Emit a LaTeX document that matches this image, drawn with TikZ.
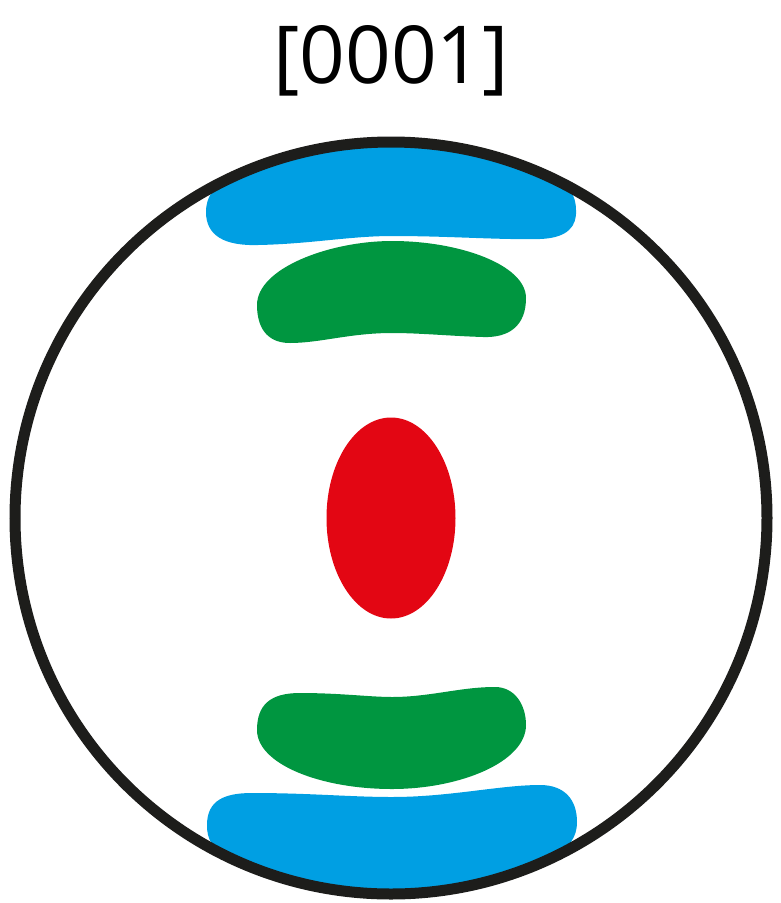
\documentclass[tikz,border=0pt]{standalone}
\usepackage{fontspec}
\setmainfont{Open Sans}
\usepackage{tikz}
\usetikzlibrary{positioning}
\usepackage{xcolor}
\definecolor{rimcolor}{RGB}{29, 29, 27}
\definecolor{outercolor}{RGB}{0, 159, 227}
\definecolor{innercolor}{RGB}{0, 150, 64}
\definecolor{centrecolor}{RGB}{227, 6, 19}

\begin{document}
\begin{tikzpicture}[x=1pt, y=-1pt,
    rim/.style={draw=rimcolor, line width=11pt},
    blob/.style={fill=#1, draw=none},
    title/.style={font=\fontsize{80}{90}\selectfont, inner sep=0pt, anchor=base}
]
\useasboundingbox (0,0) rectangle (780,903);

% Pole figure
\coordinate (centre) at (391,518);

% Title
\node[title] (label) at (391,83) {[0001]};

% Outer bands (clipped by the rim)
\begin{scope}
\clip (centre) circle (376);
\fill[blob=outercolor] (216,120) -- (212,192)
    .. controls (208,198) and (206,204) .. (206,212)
    .. controls (206,236) and (225,246) .. (258,245)
    .. controls (310,244) and (350,236) .. (392,236)
    .. controls (450,236) and (500,240) .. (540,239)
    .. controls (568,238) and (577,226) .. (576,210)
    .. controls (576,202) and (574,196) .. (570,190)
    -- (566,120) -- cycle;
\fill[blob=outercolor] (216,910) -- (212,844)
    .. controls (208,838) and (207,832) .. (207,825)
    .. controls (207,800) and (225,793) .. (252,793)
    .. controls (310,793) and (350,797) .. (392,797)
    .. controls (450,797) and (500,785) .. (540,785)
    .. controls (565,785) and (577,800) .. (577,822)
    .. controls (577,830) and (575,836) .. (571,842)
    -- (566,910) -- cycle;
\end{scope}

% Inner bands
\fill[blob=innercolor] (257,305)
    .. controls (257,268) and (330,241) .. (392,241)
    .. controls (460,241) and (526,265) .. (526,298)
    .. controls (526,325) and (510,338) .. (483,337)
    .. controls (450,336) and (420,333) .. (392,333)
    .. controls (350,333) and (320,343) .. (290,343)
    .. controls (265,343) and (257,325) .. (257,305) -- cycle;
\fill[blob=innercolor] (257,730)
    .. controls (257,705) and (270,693) .. (300,693)
    .. controls (340,693) and (370,697) .. (392,697)
    .. controls (430,697) and (460,687) .. (495,687)
    .. controls (515,687) and (526,705) .. (526,725)
    .. controls (526,762) and (460,789) .. (392,789)
    .. controls (320,789) and (257,764) .. (257,730) -- cycle;

% Centre spot
\fill[blob=centrecolor] (centre) ellipse [x radius=64.5, y radius=100.5];

% Rim
\draw[rim] (centre) circle (376);

\end{tikzpicture}
\end{document}
